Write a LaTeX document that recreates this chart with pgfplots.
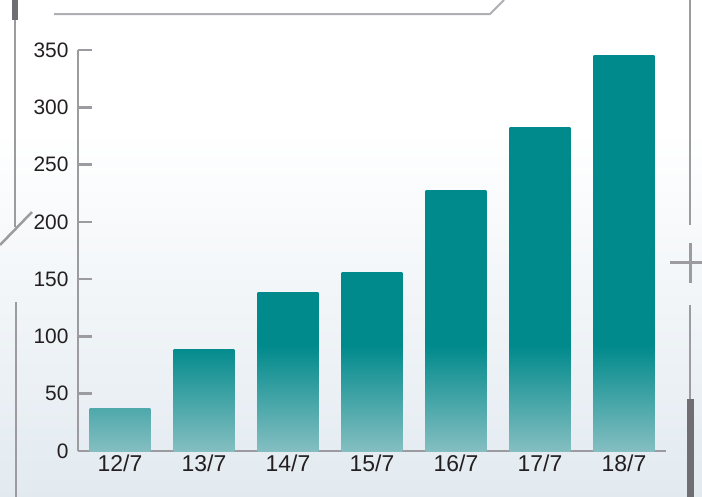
\documentclass[border=0pt]{standalone}
\usepackage{fontspec}
\setmainfont{Liberation Sans}
\usepackage{pgfplots}
\pgfplotsset{compat=1.18}
\definecolor{barteal}{RGB}{0,138,140}
\definecolor{barlight}{RGB}{132,190,193}
\definecolor{axisgray}{RGB}{155,155,160}
\definecolor{darkgray}{RGB}{110,110,115}
\definecolor{bgblue}{RGB}{226,234,240}
\definecolor{txt}{RGB}{35,31,32}
% bar fades from light at the base to teal ~92 units up; #2 = where teal is reached (25..75bp = bar box)
\newcommand\barfade[2]{\pgfdeclareverticalshading{#1}{100bp}{color(0bp)=(barlight); color(25bp)=(barlight);
  color(#2)=(barteal); color(100bp)=(barteal)}}
\barfade{fadeA}{58.3bp}
\barfade{fadeB}{54.5bp}
\barfade{fadeC}{45.3bp}
\barfade{fadeD}{41.3bp}
\barfade{fadeE}{38.3bp}

\begin{document}
\begin{tikzpicture}
% background
\useasboundingbox (0,0) rectangle (702bp,-497bp);
\fill[white] (0,0) rectangle (702bp,-497bp);
\shade[top color=white, bottom color=bgblue] (0,-130bp) rectangle (702bp,-497bp);

\begin{axis}[
  at={(78bp,-451bp)}, anchor=south west,
  scale only axis, width=588bp, height=401bp,
  xmin=-0.5, xmax=6.5, ymin=0, ymax=350,
  axis lines*=left,
  axis line style={axisgray, line width=2.6bp},
  every tick/.style={axisgray, line width=2.6bp},
  tick align=inside,
  ytick={0,50,...,350},
  major tick length=14bp,
  xtick={0,...,6},
  xticklabels={12/7,13/7,14/7,15/7,16/7,17/7,18/7},
  major x tick style={draw=none},
  extra x ticks={0.5,1.5,2.5,3.5,4.5,5.5,6.5},
  extra x tick labels={},
  extra x tick style={major tick length=9bp, tick style={axisgray, line width=2.6bp}},
  /pgf/number format/assume math mode=true,
  yticklabel style={font=\fontsize{21}{25}\selectfont, text=txt, xshift=-6bp},
  xticklabel style={font=\fontsize{23}{27}\selectfont, text=txt},
  clip=false,
  bar width=0.726,
  every axis plot/.append style={ybar, draw=none},
]
\addplot[top color=barteal!41!barlight, bottom color=barlight] coordinates {(0,37.5)};
\addplot[top color=barteal!97!barlight, bottom color=barlight] coordinates {(1,89)};
\addplot[shading=fadeA] coordinates {(2,138)};
\addplot[shading=fadeB] coordinates {(3,156)};
\addplot[shading=fadeC] coordinates {(4,227)};
\addplot[shading=fadeD] coordinates {(5,282)};
\addplot[shading=fadeE] coordinates {(6,345.5)};
\end{axis}

% decorative frame
\begin{scope}[x=1bp, y=-1bp]
  \draw[darkgray, line width=6bp] (15,0) -- (15,20);
  \draw[axisgray, line width=2.5bp] (15,20) -- (15,227);
  \draw[axisgray, line width=2.5bp] (0,245) -- (32,212);
  \draw[axisgray, line width=2.5bp] (16,302) -- (16,497);
  \draw[axisgray!80, line width=2bp] (54,14) -- (490,14) -- (504,0);
  \draw[axisgray, line width=2.5bp] (690,0) -- (690,225);
  \draw[axisgray, line width=3bp] (670,262) -- (702,262);
  \draw[axisgray, line width=3bp] (690,243) -- (690,283);
  \draw[axisgray, line width=2bp] (690,305) -- (690,400);
  \draw[darkgray, line width=7bp] (690,399) -- (690,497);
\end{scope}
\end{tikzpicture}
\end{document}
